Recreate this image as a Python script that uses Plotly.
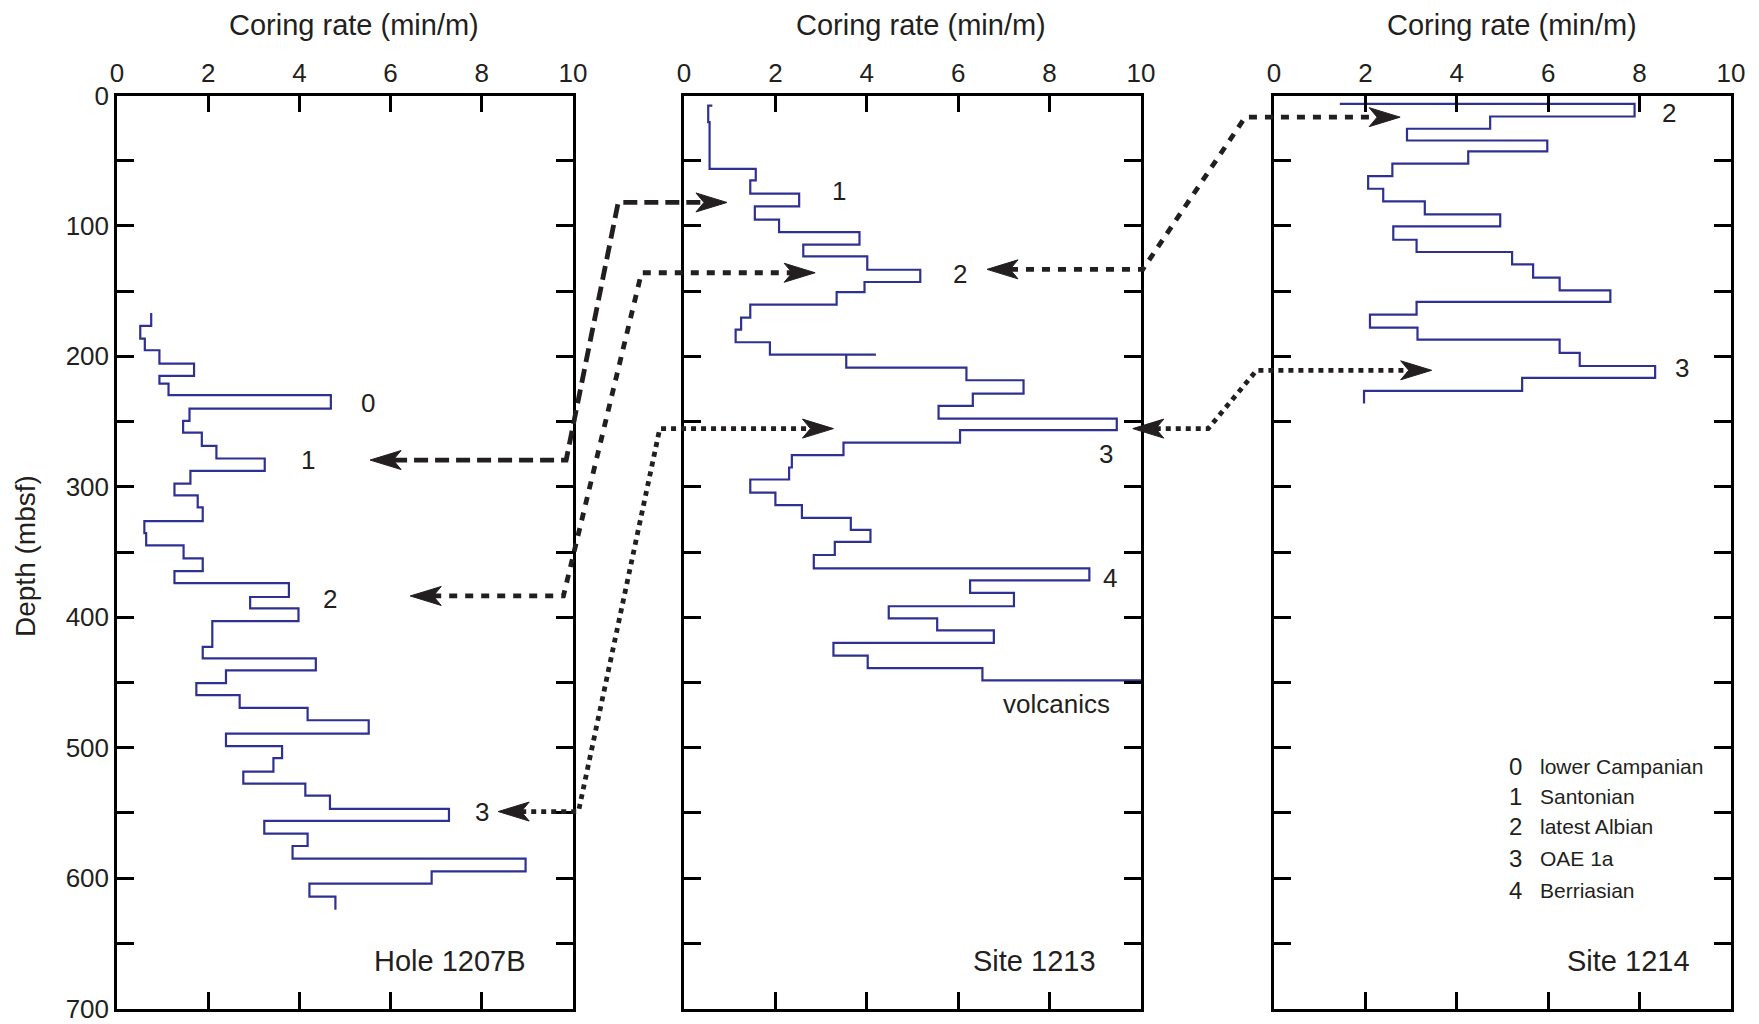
import plotly.graph_objects as go

# ---------------------------------------------------------------------------
# Coring rate (min/m) per cored interval; depth boundaries in mbsf.
# Interval i spans depth[i]..depth[i+1] with rate[i].
# ---------------------------------------------------------------------------
depth_1207b = [166.8, 176.7, 186.4, 195.3, 205.6, 215.0, 220.9, 229.8, 240.0, 249.5,
               258.4, 268.6, 278.3, 287.8, 297.5, 306.6, 315.8, 326.4, 335.6, 344.9,
               354.9, 364.7, 373.9, 384.5, 393.2, 403.0, 422.8, 431.5, 440.7, 450.5,
               459.7, 469.5, 479.0, 489.3, 498.8, 508.0, 518.4, 527.6, 536.8, 546.9,
               556.1, 565.9, 575.4, 585.1, 594.9, 604.2, 614.2, 624.2]
rate_1207b = [0.75, 0.51, 0.61, 0.93, 1.69, 0.93, 1.13, 4.69, 1.59, 1.45,
              1.86, 2.18, 3.24, 1.61, 1.26, 1.77, 1.88, 0.60, 0.64, 1.46,
              1.88, 1.26, 3.77, 2.92, 3.98, 2.09, 1.88, 4.36, 2.39, 1.74,
              2.69, 4.18, 5.52, 2.39, 3.62, 3.43, 2.77, 4.13, 4.67, 7.28,
              3.23, 4.18, 3.85, 8.96, 6.90, 4.22, 4.79]

depth_1213 = [7.7, 7.7, 20.4, 56.2, 65.1, 75.3, 85.0, 95.2, 104.7, 114.4,
              123.3, 133.6, 143.0, 150.7, 160.4, 170.3, 179.5, 189.2, 198.7, 198.7,
              208.6, 218.3, 228.5, 238.0, 247.7, 256.6, 266.1, 275.8, 285.2, 294.4,
              304.5, 314.0, 323.8, 333.0, 342.2, 352.3, 362.6, 371.8, 381.3, 391.6,
              400.9, 410.1, 419.6, 429.4, 439.1, 448.4, 448.4]
rate_1213 = [0.62, 0.53, 0.56, 1.57, 1.45, 2.52, 1.55, 2.08, 3.84, 2.61,
             4.01, 5.17, 3.95, 3.34, 1.45, 1.25, 1.13, 1.88, 4.20, 3.55,
             6.18, 7.43, 6.32, 5.57, 9.47, 6.04, 3.49, 2.36, 2.30, 1.45,
             2.00, 2.58, 3.65, 4.08, 3.30, 2.84, 8.87, 6.26, 7.22, 4.48,
             5.54, 6.78, 3.27, 4.02, 6.53, 10.0]

depth_1214 = [6.4, 6.4, 16.1, 25.5, 34.5, 42.9, 52.3, 61.8, 71.5, 81.2,
              91.2, 100.4, 110.6, 120.0, 129.5, 139.7, 149.4, 158.3, 168.0, 178.0,
              187.2, 197.4, 207.4, 216.5, 226.5, 236.2]
rate_1214 = [1.44, 7.89, 4.73, 2.91, 5.98, 4.25, 2.59, 2.06, 2.39, 3.30,
             4.95, 2.61, 3.12, 5.21, 5.67, 6.25, 7.36, 3.12, 2.10, 3.14,
             6.25, 6.69, 8.34, 5.43, 1.97]

site_names = ["Hole 1207B", "Site 1213", "Site 1214"]

# Horizon markers: (panel, label, rate, depth)
marker_panel = [0, 0, 0, 0, 1, 1, 1, 1, 2, 2]
marker_label = ["0", "1", "2", "3", "1", "2", "3", "4", "2", "3"]
marker_rate = [5.51, 4.19, 4.67, 8.01, 3.40, 6.03, 9.24, 9.33, 8.65, 8.93]
marker_depth = [236.0, 279.5, 385.8, 549.5, 73.5, 136.6, 275.0, 370.0, 13.5, 208.6]

# Key to horizon numbers
key_numbers = ["0", "1", "2", "3", "4"]
key_names = ["lower Campanian", "Santonian", "latest Albian", "OAE 1a", "Berriasian"]
key_depth = [514.6, 537.6, 560.6, 584.8, 609.9]

# Correlation connectors between neighbouring panels (left panel -> left panel + 1)
conn_left_panel = [0, 0, 0, 1, 1]
conn_left_depth = [279.5, 383.7, 549.0, 133.3, 255.4]
conn_right_depth = [82.0, 135.9, 255.4, 16.6, 210.7]
conn_left_tip = [5.55, 6.43, 8.36, 6.63, 9.82]
conn_left_bend = [9.85, 9.79, 10.12, 10.04, 11.47]
conn_right_tip = [0.94, 2.87, 3.27, 2.76, 3.45]
conn_right_bend = [-1.44, -0.93, -0.53, -0.63, -0.38]
conn_dash = ["14px,7px", "8px,8px", "5px,5px", "8px,8px", "5px,5px"]

# ---------------------------------------------------------------------------
FIG_W, FIG_H = 1759, 1024
PANEL_X = [(117, 573), (684, 1141), (1274, 1731)]   # pixel extent of each panel
PLOT_TOP, PLOT_BOT = 95.5, 1008.5
DEPTH_MAX, RATE_MAX = 700, 10

FONT = "Liberation Sans, Arial, Helvetica, sans-serif"
INK = "#231f20"
BLUE = "#2e3192"


def px_x(panel, rate):
    x0, x1 = PANEL_X[panel]
    return x0 + rate / RATE_MAX * (x1 - x0)


def px_y(depth):
    return PLOT_TOP + depth / DEPTH_MAX * (PLOT_BOT - PLOT_TOP)


def paper(x, y):
    return x / FIG_W, 1 - y / FIG_H


def step_path(bounds, rates):
    xs, ys = [], []
    for i, r in enumerate(rates):
        xs += [r, r]
        ys += [bounds[i], bounds[i + 1]]
    return xs, ys


fig = go.Figure()

series = [(depth_1207b, rate_1207b), (depth_1213, rate_1213), (depth_1214, rate_1214)]
for k, (d, r) in enumerate(series):
    xs, ys = step_path(d, r)
    fig.add_trace(go.Scatter(
        x=xs, y=ys, mode="lines",
        line=dict(color=BLUE, width=2.2),
        xaxis="x" if k == 0 else f"x{k + 1}",
        yaxis="y" if k == 0 else f"y{k + 1}",
        showlegend=False, hoverinfo="skip",
    ))

y_dom = [1 - PLOT_BOT / FIG_H, 1 - PLOT_TOP / FIG_H]
depth_ticks = list(range(0, 701, 50))
depth_text = [str(v) if v % 100 == 0 else "" for v in depth_ticks]

axis_common = dict(
    ticks="inside", ticklen=17, tickwidth=2.5, tickcolor="black",
    showline=True, linewidth=2.5, linecolor="black", mirror="ticks",
    showgrid=False, zeroline=False, fixedrange=True, automargin=False,
    tickfont=dict(family=FONT, size=26, color=INK),
)

layout = dict(
    width=FIG_W, height=FIG_H, autosize=False,
    margin=dict(l=0, r=0, t=0, b=0, pad=0),
    paper_bgcolor="white", plot_bgcolor="white",
    font=dict(family=FONT, color=INK),
    showlegend=False,
)

for k in range(3):
    sx = "" if k == 0 else str(k + 1)
    x0, x1 = PANEL_X[k]
    layout[f"xaxis{sx}"] = dict(
        axis_common, domain=[x0 / FIG_W, x1 / FIG_W], range=[0, RATE_MAX],
        side="top", tickvals=list(range(0, 11, 2)), anchor=f"y{sx}",
    )
    layout[f"yaxis{sx}"] = dict(
        axis_common, domain=y_dom, range=[DEPTH_MAX, 0],
        tickvals=depth_ticks, ticktext=depth_text,
        showticklabels=(k == 0), anchor=f"x{sx}",
    )

fig.update_layout(**layout)

annotations = []
# Axis titles
for k in range(3):
    x0, x1 = PANEL_X[k]
    ax, ay = paper((x0 + x1) / 2 + 9, 25)
    annotations.append(dict(x=ax, y=ay, xref="paper", yref="paper", text="Coring rate (min/m)",
                            showarrow=False, xanchor="center", yanchor="middle",
                            font=dict(family=FONT, size=29, color=INK)))
ax, ay = paper(25, 556)
annotations.append(dict(x=ax, y=ay, xref="paper", yref="paper", text="Depth (mbsf)",
                        textangle=-90, showarrow=False, xanchor="center", yanchor="middle",
                        font=dict(family=FONT, size=28, color=INK)))

# Site names
site_rate = [9.01, 9.06, 9.15]
for k, name in enumerate(site_names):
    sx = "" if k == 0 else str(k + 1)
    annotations.append(dict(x=site_rate[k], y=663.6, xref=f"x{sx}", yref=f"y{sx}", text=name,
                            showarrow=False, xanchor="right", yanchor="middle",
                            font=dict(family=FONT, size=29, color=INK)))

# Horizon numbers
for p, lab, r, d in zip(marker_panel, marker_label, marker_rate, marker_depth):
    sx = "" if p == 0 else str(p + 1)
    annotations.append(dict(x=r, y=d, xref=f"x{sx}", yref=f"y{sx}", text=lab,
                            showarrow=False, xanchor="center", yanchor="middle",
                            font=dict(family=FONT, size=26, color=INK)))
annotations.append(dict(x=8.16, y=466.3, xref="x2", yref="y2", text="volcanics",
                        showarrow=False, xanchor="center", yanchor="middle",
                        font=dict(family=FONT, size=26, color=INK)))

# Key
for num, name, d in zip(key_numbers, key_names, key_depth):
    annotations.append(dict(x=5.28, y=d, xref="x3", yref="y3", text=num,
                            showarrow=False, xanchor="center", yanchor="middle",
                            font=dict(family=FONT, size=24, color=INK)))
    annotations.append(dict(x=5.78, y=d, xref="x3", yref="y3", text=name,
                            showarrow=False, xanchor="left", yanchor="middle",
                            font=dict(family=FONT, size=21, color=INK)))

fig.update_layout(annotations=annotations)

# Connector lines with arrowheads
HEAD_L, HEAD_N, HEAD_H = 31, 23, 9.5


def head_path(tx, ty, direction):
    pts = [(tx, ty),
           (tx - direction * HEAD_L, ty - HEAD_H),
           (tx - direction * HEAD_N, ty),
           (tx - direction * HEAD_L, ty + HEAD_H)]
    coords = [paper(x, y) for x, y in pts]
    return "M " + " L ".join(f"{x:.5f},{y:.5f}" for x, y in coords) + " Z"


shapes = []
for i in range(len(conn_left_panel)):
    pl = conn_left_panel[i]
    pr = pl + 1
    yl = px_y(conn_left_depth[i])
    yr = px_y(conn_right_depth[i])
    tl = px_x(pl, conn_left_tip[i])
    bl = px_x(pl, conn_left_bend[i])
    br = px_x(pr, conn_right_bend[i])
    tr = px_x(pr, conn_right_tip[i])
    pts = [(tl + HEAD_N, yl), (bl, yl), (br, yr), (tr - HEAD_N, yr)]
    coords = [paper(x, y) for x, y in pts]
    path = "M " + " L ".join(f"{x:.5f},{y:.5f}" for x, y in coords)
    shapes.append(dict(type="path", xref="paper", yref="paper", path=path,
                       line=dict(color=INK, width=4.8, dash=conn_dash[i])))
    for tx, ty, dr in [(tl, yl, -1), (tr, yr, 1)]:
        shapes.append(dict(type="path", xref="paper", yref="paper", path=head_path(tx, ty, dr),
                           fillcolor=INK, line=dict(color=INK, width=1)))

fig.update_layout(shapes=shapes)

fig.write_html("out.html")
